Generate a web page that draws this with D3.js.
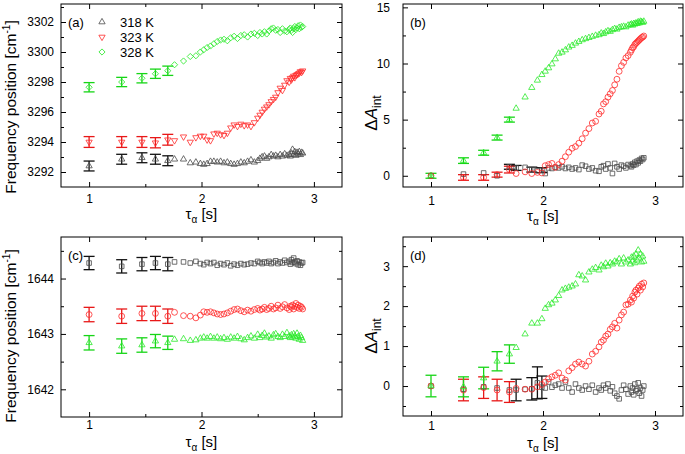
<!DOCTYPE html>
<html>
<head>
<meta charset="utf-8">
<script src="https://cdn.jsdelivr.net/npm/d3@7"></script>
<style>
  body { margin: 0; background: #fff; }
  svg { display: block; }
  text { font-family: "Liberation Sans", Arial, sans-serif; fill: #000; }
</style>
</head>
<body>
<svg id="chart" width="685" height="454"></svg>
<script>
// relaxation time axis shared by all series
const tau = [
  1.00, 1.29, 1.47, 1.59, 1.70, 1.76, 1.84, 1.90, 1.95, 1.99,
  2.02, 2.05, 2.08, 2.11, 2.14, 2.17, 2.20, 2.23, 2.26, 2.29,
  2.32, 2.35, 2.38, 2.41, 2.44, 2.47, 2.50, 2.52, 2.54, 2.56,
  2.58, 2.60, 2.62, 2.64, 2.66, 2.68, 2.70, 2.72, 2.74, 2.76,
  2.78, 2.79, 2.80, 2.81, 2.82, 2.83, 2.84, 2.85, 2.86, 2.87,
  2.88, 2.89, 2.90
];

const temps = ["318 K", "323 K", "328 K"];

// (a) OH band position
const freqA318 = [
  3292.4, 3292.85, 3292.95, 3292.85, 3292.75, 3292.85, 3292.85, 3292.6, 3292.65, 3292.55,
  3292.5, 3292.55, 3292.7, 3292.7, 3292.65, 3292.7, 3292.6, 3292.65, 3292.55, 3292.5,
  3292.55, 3292.65, 3292.6, 3292.7, 3292.8, 3292.65, 3292.75, 3292.9, 3293.0, 3293.05,
  3292.9, 3293.0, 3293.15, 3293.05, 3293.1, 3293.0, 3293.15, 3293.05, 3293.2, 3293.1,
  3293.15, 3293.05, 3293.25, 3293.5, 3293.15, 3293.35, 3293.1, 3293.3, 3293.2, 3293.35,
  3293.15, 3293.3, 3293.25
];
const freqA323 = [
  3294.0, 3294.0, 3294.0, 3293.95, 3294.15, 3294.1, 3294.35, 3294.0, 3294.3, 3294.4,
  3294.4, 3294.15, 3294.1, 3294.55, 3294.6, 3294.5, 3294.45, 3294.6, 3294.95, 3295.15,
  3295.05, 3295.2, 3295.1, 3295.15, 3295.05, 3295.3, 3295.6, 3295.8, 3296.0, 3296.2,
  3296.35, 3296.5, 3296.7, 3296.85, 3297.0, 3297.3, 3297.6, 3297.45, 3297.8, 3298.1,
  3298.0, 3298.25, 3298.15, 3298.3, 3298.4, 3298.3, 3298.45, 3298.5, 3298.55, 3298.6,
  3298.7, 3298.65, 3298.75
];
const freqA328 = [
  3297.65, 3298.0, 3298.25, 3298.55, 3298.75, 3299.15, 3299.4, 3299.7, 3299.75, 3300.0,
  3300.15, 3300.3, 3300.4, 3300.55, 3300.7, 3300.8, 3300.85, 3300.75, 3300.95, 3301.05,
  3300.9, 3301.1, 3301.15, 3301.0, 3301.2, 3301.25, 3301.1, 3301.3, 3301.2, 3301.35,
  3301.2, 3301.4, 3301.55, 3301.6, 3301.45, 3301.5, 3301.3, 3301.55, 3301.4, 3301.35,
  3301.5, 3301.6, 3301.45, 3301.3, 3301.55, 3301.7, 3301.5, 3301.6, 3301.75, 3301.55,
  3301.8, 3301.65, 3301.7
];
const errA318 = [0.33, 0.33, 0.33, 0.33, 0.33];
const errA323 = [0.36, 0.36, 0.36, 0.34, 0.36];
const errA328 = [0.31, 0.31, 0.31, 0.31, 0.31];

// (b) OH integrated absorbance change
const dAB318 = [
  0, 0.15, 0.25, 0.0, 0.8, 0.7, 0.75, 0.55, 0.45, 0.5,
  0.2, 0.7, 0.65, 0.75, 0.7, 0.8, 0.65, 0.75, 0.6, 0.7,
  0.55, 0.95, 0.85, 0.6, 0.7, 0.45, 0.4, 0.8, 0.9, 0.6,
  1.05, 0.7, 0.2, 1.1, 0.8, 0.6, 0.95, 0.85, 0.7, 1.0,
  0.9, 0.8, 1.05, 0.95, 1.2, 1.0, 1.3, 1.15, 1.4, 1.3,
  1.55, 1.45, 1.6
];
const dAB323 = [
  0, -0.15, -0.15, 0.1, 0.55, 0.2, 0.35, 0.2, 0.3, 0.25,
  0.9, 1.0, 1.1, 0.75, 1.0, 1.3, 1.7, 2.1, 2.45, 2.6,
  2.9, 3.3, 3.8, 4.2, 4.7, 4.85, 5.5, 5.75, 6.4, 6.6,
  7.0, 7.3, 7.6, 8.1, 8.6, 9.3, 9.8, 10.1, 10.5, 10.7,
  11.0, 11.2, 11.4, 11.5, 11.7, 11.8, 11.9, 12.0, 12.1, 12.2,
  12.3, 12.35, 12.45
];
const dAB328 = [
  0, 1.35, 2.05, 3.4, 5.0, 6.0, 7.0, 7.85, 8.5, 9.0,
  9.3, 9.6, 9.95, 10.4, 10.9, 11.0, 11.2, 11.45, 11.6, 11.8,
  11.95, 12.1, 12.2, 12.3, 12.4, 12.5, 12.55, 12.7, 12.65, 12.8,
  12.9, 12.85, 13.0, 13.1, 13.05, 13.2, 13.25, 13.3, 13.25, 13.4,
  13.45, 13.5, 13.4, 13.55, 13.5, 13.6, 13.55, 13.7, 13.6, 13.75,
  13.7, 13.65, 13.75
];
const errB318 = [null, null, null, null, 0.22, 0.22, null, 0.22, null, 0.22];
const errB323 = [null, 0.25, 0.25, 0.22, 0.3];
const errB328 = [0.22, 0.25, 0.22, 0.22, 0.22];

// (c) second band position
const freqC318 = [
  1644.28, 1644.22, 1644.26, 1644.28, 1644.26, 1644.3, 1644.3, 1644.28, 1644.31, 1644.27,
  1644.25, 1644.29, 1644.27, 1644.29, 1644.24, 1644.27, 1644.25, 1644.28, 1644.23, 1644.26,
  1644.24, 1644.27, 1644.25, 1644.26, 1644.28, 1644.27, 1644.31, 1644.29, 1644.27, 1644.3,
  1644.28, 1644.31, 1644.27, 1644.29, 1644.32, 1644.27, 1644.3, 1644.28, 1644.33, 1644.29,
  1644.31, 1644.26, 1644.34, 1644.29, 1644.37, 1644.3, 1644.27, 1644.32, 1644.25, 1644.3,
  1644.24, 1644.28, 1644.29
];
const freqC323 = [
  1643.35, 1643.32, 1643.37, 1643.37, 1643.32, 1643.39, 1643.33, 1643.32, 1643.29, 1643.34,
  1643.4, 1643.39, 1643.4, 1643.38, 1643.36, 1643.35, 1643.36, 1643.38, 1643.41, 1643.44,
  1643.45, 1643.42, 1643.4, 1643.43, 1643.41, 1643.44, 1643.46, 1643.43, 1643.45, 1643.48,
  1643.44, 1643.46, 1643.5, 1643.45, 1643.47, 1643.52, 1643.46, 1643.49, 1643.53, 1643.47,
  1643.44, 1643.5, 1643.48, 1643.52, 1643.45, 1643.5, 1643.55, 1643.48, 1643.52, 1643.46,
  1643.5, 1643.48, 1643.45
];
const freqC328 = [
  1642.84, 1642.78, 1642.8, 1642.87, 1642.84, 1642.9, 1642.91, 1642.88, 1642.89, 1642.92,
  1642.94, 1642.92, 1642.95, 1642.92, 1642.94, 1642.91, 1642.93, 1642.9, 1642.94, 1642.92,
  1642.95, 1642.91, 1642.89, 1642.93, 1642.96, 1642.92, 1642.99, 1642.93, 1642.97, 1643.01,
  1642.94, 1642.96, 1642.92, 1642.98, 1643.0, 1642.95, 1642.93, 1642.99, 1642.95, 1643.02,
  1642.96, 1642.93, 1642.98, 1642.94, 1643.0, 1642.96, 1642.92, 1643.01, 1642.95, 1642.9,
  1642.97, 1642.93, 1642.88
];
const errC318 = [0.12, 0.12, 0.12, 0.12, 0.12];
const errC323 = [0.13, 0.13, 0.13, 0.13, 0.13];
const errC328 = [0.13, 0.13, 0.13, 0.12, 0.12];

// (d) second band integrated absorbance change
const dAD318 = [
  0, -0.08, -0.02, -0.05, -0.1, -0.1, -0.08, -0.07, 0.08, -0.03,
  -0.05, 0.1, -0.03, 0.02, 0.05, -0.05, 0.1, -0.05, -0.15, 0.05,
  -0.05, -0.1, 0.0, -0.08, 0.02, -0.15, -0.05, -0.1, 0.02, -0.05,
  0.05, -0.12, -0.02, -0.18, -0.25, -0.32, -0.1, 0.02, -0.08, -0.2,
  0.0, -0.15, -0.05, -0.22, 0.05, -0.12, -0.08, 0.08, -0.18, -0.05,
  -0.25, -0.1, 0.0
];
const dAD323 = [
  0, -0.1, -0.04, -0.1, -0.15, -0.06, -0.08, -0.08, -0.02, 0.04,
  0.1, 0.18, 0.23, 0.27, 0.33, 0.2, 0.15, 0.38, 0.46, 0.55,
  0.6, 0.55, 0.5, 0.62, 0.8, 0.87, 0.98, 1.1, 1.15, 1.25,
  1.3, 1.42, 1.48, 1.57, 1.45, 1.65, 1.78, 1.85, 2.03, 2.05,
  2.15, 2.1, 2.25, 2.2, 2.35, 2.4, 2.3, 2.45, 2.5, 2.4,
  2.55, 2.48, 2.58
];
const dAD328 = [
  0, -0.02, 0.2, 0.62, 0.8, 0.96, 1.3, 1.57, 1.57, 1.68,
  1.94, 2.03, 2.07, 2.15, 2.26, 2.4, 2.44, 2.47, 2.5, 2.55,
  2.78, 2.75, 2.65, 2.85, 2.92, 2.96, 2.9, 3.02, 2.98, 3.07,
  3.0, 3.08, 3.05, 3.12, 3.1, 3.18, 3.05, 3.2, 3.1, 3.15,
  3.05, 3.22, 3.12, 3.25, 3.08, 3.3, 3.15, 3.4, 3.2, 3.3,
  3.1, 3.25, 3.12
];
const errD318 = [null, null, null, null, null, 0.27, null, 0.28, 0.4, 0.28];
const errD323 = [null, 0.27, 0.27, 0.27, 0.26];
const errD328 = [0.27, 0.25, 0.27, 0.24, 0.23];

// ticks
const xMajor = [1, 2, 3];
const xMinor = [1.5, 2.5];
const yMajorA = [3292, 3294, 3296, 3298, 3300, 3302];
const yMinorA = [3291, 3293, 3295, 3297, 3299, 3301, 3303];
const yMajorB = [0, 5, 10, 15];
const yMinorB = [2.5, 7.5, 12.5];
const yMajorC = [1642, 1643, 1644];
const yMinorC = [1641.5, 1642.5, 1643.5, 1644.5];
const yMajorD = [0, 1, 2, 3];
const yMinorD = [-0.5, 0.5, 1.5, 2.5, 3.5];

const svg = d3.select("#chart");

const markColor = { k: "#4a4a4a", r: "#ff2a2a", g: "#2bea2b" };
const barColor  = { k: "#111111", r: "#e81818", g: "#16d516" };

const tri = d3.symbol(d3.symbolTriangle, 17)();
const shapes = {
  up:      { d: tri, rot: 0 },
  down:    { d: tri, rot: 180 },
  circle:  { d: d3.symbol(d3.symbolCircle, 27)(), rot: 0 },
  square:  { d: d3.symbol(d3.symbolSquare, 21)(), rot: 0 },
  diamond: { d: d3.symbol(d3.symbolSquare, 19)(), rot: 45 }
};

const plain = d => String(d);

const panels = [
  { tag: "(a)", box: [61, 4, 342, 187], yDom: [3291, 3303.2], yMajor: yMajorA, yMinor: yMinorA,
    yPad: 7, xPad: 7, title: "freq", titleX: 16, titleY: 107, xTitleY: 219,
    series: [
      { v: freqA318, e: errA318, s: "up", c: "k" },
      { v: freqA323, e: errA323, s: "down", c: "r" },
      { v: freqA328, e: errA328, s: "diamond", c: "g" }
    ] },
  { tag: "(b)", box: [403, 4, 683, 187], yDom: [-1, 15.3], yMajor: yMajorB, yMinor: yMinorB,
    yPad: 13, xPad: 9, title: "dA", titleX: 377, titleY: 113, xTitleY: 221,
    series: [
      { v: dAB318, e: errB318, s: "square", c: "k" },
      { v: dAB323, e: errB323, s: "circle", c: "r" },
      { v: dAB328, e: errB328, s: "up", c: "g" }
    ] },
  { tag: "(c)", box: [61, 237, 342, 417], yDom: [1641.5, 1644.75], yMajor: yMajorC, yMinor: yMinorC,
    yPad: 7, xPad: 3, title: "freq", titleX: 16, titleY: 336, xTitleY: 447,
    series: [
      { v: freqC318, e: errC318, s: "square", c: "k" },
      { v: freqC323, e: errC323, s: "circle", c: "r" },
      { v: freqC328, e: errC328, s: "up", c: "g" }
    ] },
  { tag: "(d)", box: [403, 237, 683, 416], yDom: [-0.75, 3.73], yMajor: yMajorD, yMinor: yMinorD,
    yPad: 13, xPad: 5, title: "dA", titleX: 377, titleY: 336, xTitleY: 448,
    series: [
      { v: dAD318, e: errD318, s: "square", c: "k" },
      { v: dAD323, e: errD323, s: "circle", c: "r" },
      { v: dAD328, e: errD328, s: "up", c: "g" }
    ] }
];

function drawPanel(p) {
  const [x0, y0, x1, y1] = p.box;
  const x = d3.scaleLinear().domain([0.75, 3.25]).range([x0, x1]);
  const y = d3.scaleLinear().domain(p.yDom).range([y1, y0]);
  const g = svg.append("g");
  const yMin = p.yMinor.filter(v => v > p.yDom[0] && v < p.yDom[1]);

  // ticks, pointing inward on all four sides
  const axes = [
    [d3.axisBottom(x).tickValues(xMajor).tickSizeInner(-5).tickPadding(p.xPad).tickFormat(plain), `translate(0,${y1})`],
    [d3.axisBottom(x).tickValues(xMinor).tickSizeInner(-3).tickFormat(""), `translate(0,${y1})`],
    [d3.axisTop(x).tickValues(xMajor).tickSizeInner(-5).tickFormat(""), `translate(0,${y0})`],
    [d3.axisTop(x).tickValues(xMinor).tickSizeInner(-3).tickFormat(""), `translate(0,${y0})`],
    [d3.axisLeft(y).tickValues(p.yMajor).tickSizeInner(-5).tickPadding(p.yPad).tickFormat(plain), `translate(${x0},0)`],
    [d3.axisLeft(y).tickValues(yMin).tickSizeInner(-3).tickFormat(""), `translate(${x0},0)`],
    [d3.axisRight(y).tickValues(p.yMajor).tickSizeInner(-5).tickFormat(""), `translate(${x1},0)`],
    [d3.axisRight(y).tickValues(yMin).tickSizeInner(-3).tickFormat(""), `translate(${x1},0)`]
  ];
  axes.forEach(([ax, tr]) => {
    const a = g.append("g").attr("transform", tr).call(ax.tickSizeOuter(0));
    a.select(".domain").remove();
    a.selectAll("line").attr("stroke", "#000");
    a.selectAll("text").attr("font-size", 12).attr("font-family", "Liberation Sans, Arial, sans-serif").attr("fill", "#000");
  });

  g.append("rect")
    .attr("x", x0).attr("y", y0).attr("width", x1 - x0).attr("height", y1 - y0)
    .attr("fill", "none").attr("stroke", "#000").attr("stroke-width", 1);

  // error bars then markers
  p.series.forEach(s => {
    const bars = s.e.map((e, i) => ({ e, t: tau[i], v: s.v[i] })).filter(d => d.e != null);
    const bg = g.append("g").attr("stroke", barColor[s.c]).attr("stroke-width", 1.3).attr("fill", "none");
    bars.forEach(d => {
      const cx = x(d.t), top = y(d.v + d.e), bot = y(d.v - d.e);
      bg.append("line").attr("x1", cx).attr("x2", cx).attr("y1", top).attr("y2", bot);
      bg.append("line").attr("x1", cx - 5.5).attr("x2", cx + 5.5).attr("y1", top).attr("y2", top);
      bg.append("line").attr("x1", cx - 5.5).attr("x2", cx + 5.5).attr("y1", bot).attr("y2", bot);
    });
  });
  p.series.forEach(s => {
    const sh = shapes[s.s];
    g.append("g").selectAll("path")
      .data(s.v.map((v, i) => ({ t: tau[i], v })))
      .join("path")
      .attr("d", sh.d)
      .attr("transform", d => `translate(${x(d.t)},${y(d.v)}) rotate(${sh.rot})`)
      .attr("fill", "none")
      .attr("stroke", markColor[s.c])
      .attr("stroke-width", 0.8);
  });

  // panel tag
  g.append("text").attr("x", x0 + 7).attr("y", y0 + 23).attr("font-size", 13).text(p.tag);

  // x title: tau_alpha [s]
  const xt = g.append("text").attr("x", (x0 + x1) / 2 - 16).attr("y", p.xTitleY).attr("font-size", 15);
  xt.append("tspan").text("τ");
  xt.append("tspan").attr("dy", 4).attr("font-size", 10).text("α");
  xt.append("tspan").attr("dy", -4).text(" [s]");

  // y title
  const yt = g.append("text")
    .attr("transform", `translate(${p.titleX},${p.titleY}) rotate(-90)`)
    .attr("text-anchor", "middle");
  if (p.title === "freq") {
    yt.attr("font-size", 15.5);
    yt.append("tspan").text("Frequency position [cm");
    yt.append("tspan").attr("dy", -6).attr("font-size", 10).text("-1");
    yt.append("tspan").attr("dy", 6).text("]");
  } else {
    yt.attr("font-size", 17);
    yt.append("tspan").text("Δ");
    yt.append("tspan").attr("font-style", "italic").text("A");
    yt.append("tspan").attr("dy", 4).attr("font-size", 12).text("int");
  }
  return { x, y };
}

panels.forEach(drawPanel);

// legend in panel (a)
const legendShapes = ["up", "down", "diamond"];
const legendCols = ["k", "r", "g"];
const lg = svg.append("g");
temps.forEach((t, i) => {
  const cy = 22 + i * 15;
  const sh = shapes[legendShapes[i]];
  lg.append("path").attr("d", sh.d)
    .attr("transform", `translate(102,${cy}) rotate(${sh.rot})`)
    .attr("fill", "none").attr("stroke", markColor[legendCols[i]]).attr("stroke-width", 0.8);
  lg.append("text").attr("x", 120).attr("y", cy + 5).attr("font-size", 13).text(t);
});
</script>
</body>
</html>
